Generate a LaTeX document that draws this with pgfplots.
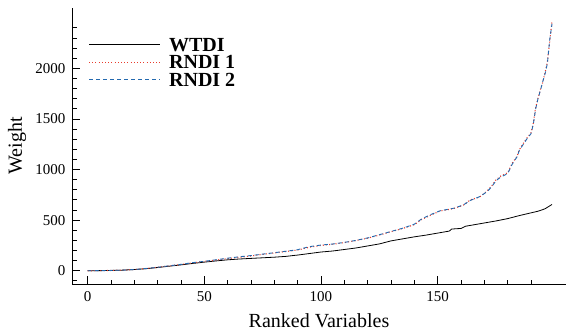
\documentclass[border=0pt]{standalone}
\usepackage{pgfplots}
\pgfplotsset{compat=1.18}
\usepackage{fontspec}
\setmainfont{Liberation Serif}
\definecolor{rred}{RGB}{232,60,45}
\definecolor{bblue}{RGB}{35,105,175}
\begin{document}
\begin{tikzpicture}
\begin{axis}[
  name=ax,
  scale only axis,
  width=494pt, height=276pt,
  xmin=-6.7, xmax=205,
  ymin=-131, ymax=2596,
  axis x line*=bottom, axis y line*=left,
  axis line style={-, line width=0.9pt},
  tick align=inside,
  xtick={0,50,100,150},
  minor xtick={10,20,30,40,60,70,80,90,110,120,130,140,160,170,180,190},
  ytick={0,500,1000,1500,2000},
  minor ytick={-100,100,200,300,400,600,700,800,900,1100,1200,1300,1400,1600,1700,1800,1900,2100,2200,2300,2400},
  major tick length=8pt, minor tick length=4.5pt,
  every tick/.style={black, line width=0.8pt},
  /pgf/number format/assume math mode=true,
  /pgf/number format/1000 sep={},
  tick label style={font=\fontsize{15}{18}\selectfont},
  xticklabel style={yshift=-4pt},
  yticklabel style={xshift=-3pt},
  xlabel={Ranked Variables}, ylabel={Weight},
  every axis x label/.style={at={(axis description cs:0.5,0)}, anchor=base, yshift=-43pt, font=\fontsize{20}{24}\selectfont},
  every axis y label/.style={at={(axis description cs:-0.1113,0.5)}, anchor=center, rotate=90, font=\fontsize{20}{24}\selectfont},
  legend style={draw=none, fill=none, at={(axis description cs:0.027,0.905)}, anchor=north west,
    font=\fontsize{20}{20}\selectfont\bfseries, row sep=1.5pt,
    nodes={inner sep=1.5pt, text depth=0pt},
    /tikz/every odd column/.append style={column sep=7pt}},
  legend cell align=left,
  legend image code/.code={\draw[#1] (0pt,0pt) -- (71pt,0pt);},
]
\addplot[black, line width=0.8pt] coordinates {
(0,0) (5,1) (10,3) (15,6) (20,12) (25,20) (30,32) (35,45) (40,58) (45,72) (50,85)
(55,97) (60,108) (65,116) (70,122) (75,128) (80,134) (85,142) (88,150) (90,155) (95,170)
(100,185) (105,195) (110,210) (115,225) (120,245) (125,265) (130,295) (135,315) (140,335)
(145,352) (150,372) (155,392) (156,412) (160,418) (162,440) (165,452) (170,472) (175,492)
(180,515) (185,545) (190,572) (193,588) (196,612) (199,655)
};
\addlegendentry{WTDI}
\addplot[rred, line width=1.1pt, dash pattern=on 1pt off 2.2pt] coordinates {
(0,0) (5,1) (10,3) (15,6) (20,12) (25,22) (30,34) (35,48) (40,62) (45,78) (50,92)
(55,105) (60,120) (65,133) (70,146) (75,162) (80,176) (85,190) (90,205) (95,232)
(100,250) (105,262) (110,278) (115,298) (120,322) (125,352) (130,385) (135,418) (140,455)
(143,505) (147,548) (151,590) (157,615) (161,648) (164,700) (168,728) (171,785)
(173,832) (175,898) (177,935) (180,968) (182,1065) (184,1130) (185,1195) (188,1305)
(190,1362) (191,1460) (192,1610) (193,1705) (194,1790) (195,1860) (196,1955) (197,2060)
(198,2260) (199,2465)
};
\addlegendentry{RNDI 1}
\addplot[bblue, line width=0.9pt, dash pattern=on 4pt off 3pt] coordinates {
(0,0) (5,1) (10,3) (15,6) (20,12) (25,22) (30,34) (35,49) (40,63) (45,80) (50,93)
(55,108) (60,124) (65,138) (70,150) (75,164) (80,178) (85,193) (90,208) (95,238)
(100,254) (105,264) (110,280) (115,300) (120,324) (125,356) (130,388) (135,420) (140,460)
(143,510) (147,555) (151,592) (157,618) (161,650) (164,695) (168,732) (171,778)
(173,825) (175,890) (177,925) (180,960) (182,1055) (184,1125) (185,1190) (188,1295)
(190,1355) (191,1450) (192,1600) (193,1700) (194,1780) (195,1865) (196,1945) (197,2045)
(198,2280) (199,2440)
};
\addlegendentry{RNDI 2}
\end{axis}
\pgfresetboundingbox
\path[use as bounding box] ([xshift=-72pt,yshift=-51pt]ax.south west) rectangle ([yshift=8pt]ax.north east);
\end{tikzpicture}
\end{document}
